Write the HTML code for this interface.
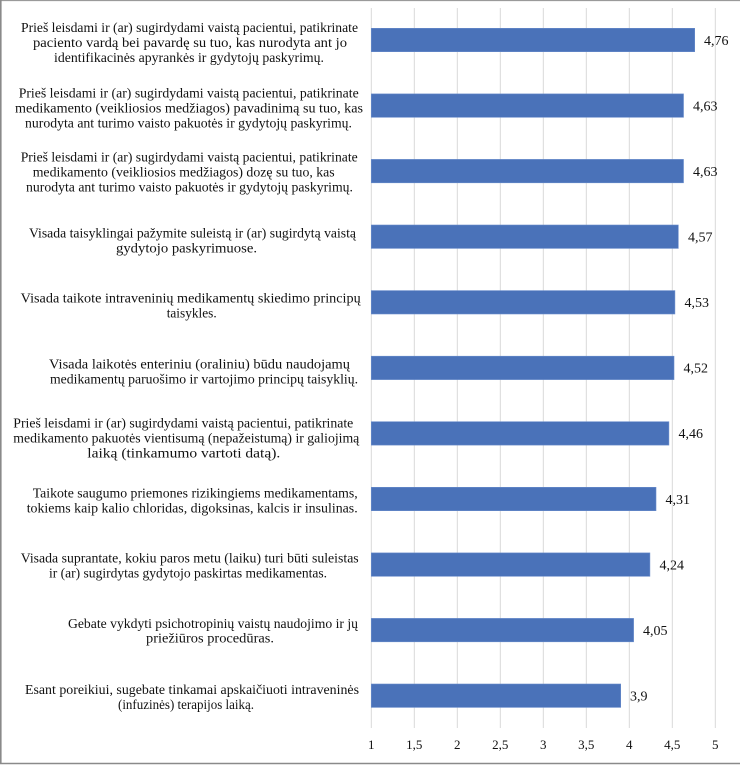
<!DOCTYPE html>
<html><head><meta charset="utf-8"><style>
html,body{margin:0;padding:0;background:#fff;}
svg{display:block;}
text{font-family:"Liberation Serif","Times New Roman",serif;font-size:13px;fill:#111;}
.c text{font-size:14px;}
.v text{font-size:14px;}
</style></head><body>
<svg width="740" height="765" viewBox="0 0 740 765" xmlns="http://www.w3.org/2000/svg">
<rect x="0" y="0" width="740" height="765" fill="#fff"/>
<!-- border -->
<line x1="0.5" y1="0.5" x2="740" y2="0.5" stroke="#9a9a9a" stroke-width="1.2"/>
<line x1="0.8" y1="0" x2="0.8" y2="764" stroke="#8a8a8a" stroke-width="1.6"/>
<line x1="0" y1="763.5" x2="740" y2="763.5" stroke="#8a8a8a" stroke-width="1.4"/>
<!-- gridlines -->
<g stroke="#d9d9d9" stroke-width="1">
<line x1="371.3" y1="8" x2="371.3" y2="728"/>
<line x1="414.3" y1="8" x2="414.3" y2="728"/>
<line x1="457.3" y1="8" x2="457.3" y2="728"/>
<line x1="500.3" y1="8" x2="500.3" y2="728"/>
<line x1="543.3" y1="8" x2="543.3" y2="728"/>
<line x1="586.3" y1="8" x2="586.3" y2="728"/>
<line x1="629.3" y1="8" x2="629.3" y2="728"/>
<line x1="672.3" y1="8" x2="672.3" y2="728"/>
<line x1="715.3" y1="8" x2="715.3" y2="728"/>
</g>
<!-- bars -->
<g fill="#4a72b9" stroke="#6a8dcb" stroke-width="0.6">
<rect x="371.3" y="28.3" width="323.4" height="23.4"/>
<rect x="371.3" y="93.9" width="312.2" height="23.4"/>
<rect x="371.3" y="159.4" width="312.2" height="23.4"/>
<rect x="371.3" y="225.0" width="307.0" height="23.4"/>
<rect x="371.3" y="290.6" width="303.6" height="23.4"/>
<rect x="371.3" y="356.2" width="302.7" height="23.4"/>
<rect x="371.3" y="421.7" width="297.6" height="23.4"/>
<rect x="371.3" y="487.3" width="284.7" height="23.4"/>
<rect x="371.3" y="552.9" width="278.6" height="23.4"/>
<rect x="371.3" y="618.4" width="262.3" height="23.4"/>
<rect x="371.3" y="684.0" width="249.4" height="23.4"/>
</g>
<!-- value labels -->
<g class="v">
<text x="704" y="45">4,76</text>
<text x="693" y="110.5">4,63</text>
<text x="693" y="176">4,63</text>
<text x="688" y="241.5">4,57</text>
<text x="684.5" y="307">4,53</text>
<text x="683.5" y="372.5">4,52</text>
<text x="678.5" y="438">4,46</text>
<text x="665.5" y="504">4,31</text>
<text x="659.5" y="569.5">4,24</text>
<text x="643" y="635">4,05</text>
<text x="630" y="700.5">3,9</text>
</g>
<!-- axis tick labels -->
<g text-anchor="middle">
<text x="371.3" y="749">1</text>
<text x="414.3" y="749">1,5</text>
<text x="457.3" y="749">2</text>
<text x="500.3" y="749">2,5</text>
<text x="543.3" y="749">3</text>
<text x="586.3" y="749">3,5</text>
<text x="629.3" y="749">4</text>
<text x="672.3" y="749">4,5</text>
<text x="715.3" y="749">5</text>
</g>
<!-- category labels -->
<g class="c">
<text x="21" y="31.8" textLength="337" lengthAdjust="spacingAndGlyphs">Prieš leisdami ir (ar) sugirdydami vaistą pacientui, patikrinate</text>
<text x="33" y="46.8" textLength="314" lengthAdjust="spacingAndGlyphs">paciento vardą bei pavardę su tuo, kas nurodyta ant jo</text>
<text x="54" y="61.8" textLength="270" lengthAdjust="spacingAndGlyphs">identifikacinės apyrankės ir gydytojų paskyrimų.</text>

<text x="18.7" y="97.5" textLength="340" lengthAdjust="spacingAndGlyphs">Prieš leisdami ir (ar) sugirdydami vaistą pacientui, patikrinate</text>
<text x="15" y="112.5" textLength="348" lengthAdjust="spacingAndGlyphs">medikamento (veikliosios  medžiagos) pavadinimą su tuo, kas</text>
<text x="25" y="127.5" textLength="327" lengthAdjust="spacingAndGlyphs">nurodyta ant turimo vaisto pakuotės ir gydytojų paskyrimų.</text>

<text x="20.7" y="161.5" textLength="337" lengthAdjust="spacingAndGlyphs">Prieš leisdami ir (ar) sugirdydami vaistą pacientui, patikrinate</text>
<text x="32.7" y="176.5" textLength="302" lengthAdjust="spacingAndGlyphs">medikamento (veikliosios  medžiagos) dozę su tuo, kas</text>
<text x="26" y="191.5" textLength="327" lengthAdjust="spacingAndGlyphs">nurodyta ant turimo vaisto pakuotės ir gydytojų paskyrimų.</text>

<text x="29" y="237.5" textLength="327" lengthAdjust="spacingAndGlyphs">Visada taisyklingai pažymite suleistą ir (ar) sugirdytą vaistą</text>
<text x="116" y="252.5" textLength="141" lengthAdjust="spacingAndGlyphs">gydytojo paskyrimuose.</text>

<text x="20.7" y="302.5" textLength="340" lengthAdjust="spacingAndGlyphs">Visada taikote intraveninių medikamentų  skiedimo principų</text>
<text x="166.7" y="317.5" textLength="50" lengthAdjust="spacingAndGlyphs">taisykles.</text>

<text x="49" y="368.5" textLength="301" lengthAdjust="spacingAndGlyphs">Visada laikotės enteriniu (oraliniu) būdu naudojamų</text>
<text x="50" y="383.5" textLength="308" lengthAdjust="spacingAndGlyphs">medikamentų paruošimo ir vartojimo principų taisyklių.</text>

<text x="13.3" y="427.5" textLength="340" lengthAdjust="spacingAndGlyphs">Prieš leisdami ir (ar) sugirdydami vaistą pacientui, patikrinate</text>
<text x="13.3" y="442.5" textLength="346" lengthAdjust="spacingAndGlyphs">medikamento pakuotės vientisumą (nepažeistumą) ir galiojimą</text>
<text x="87.3" y="457.5" textLength="193" lengthAdjust="spacingAndGlyphs">laiką (tinkamumo vartoti datą).</text>

<text x="32.7" y="497.5" textLength="325" lengthAdjust="spacingAndGlyphs">Taikote saugumo priemones rizikingiems medikamentams,</text>
<text x="26.7" y="512.5" textLength="331" lengthAdjust="spacingAndGlyphs">tokiems kaip kalio chloridas, digoksinas, kalcis ir insulinas.</text>

<text x="20.7" y="562.5" textLength="338" lengthAdjust="spacingAndGlyphs">Visada suprantate, kokiu paros metu (laiku) turi būti suleistas</text>
<text x="49" y="577.5" textLength="278" lengthAdjust="spacingAndGlyphs">ir (ar) sugirdytas gydytojo paskirtas medikamentas.</text>

<text x="68" y="628" textLength="290" lengthAdjust="spacingAndGlyphs">Gebate vykdyti psichotropinių vaistų naudojimo ir jų</text>
<text x="146" y="642.5" textLength="128" lengthAdjust="spacingAndGlyphs">priežiūros procedūras.</text>

<text x="25" y="694" textLength="334" lengthAdjust="spacingAndGlyphs">Esant poreikiui, sugebate tinkamai apskaičiuoti  intraveninės</text>
<text x="118" y="709" textLength="136" lengthAdjust="spacingAndGlyphs">(infuzinės) terapijos laiką.</text>
</g>
</svg>
</body></html>
